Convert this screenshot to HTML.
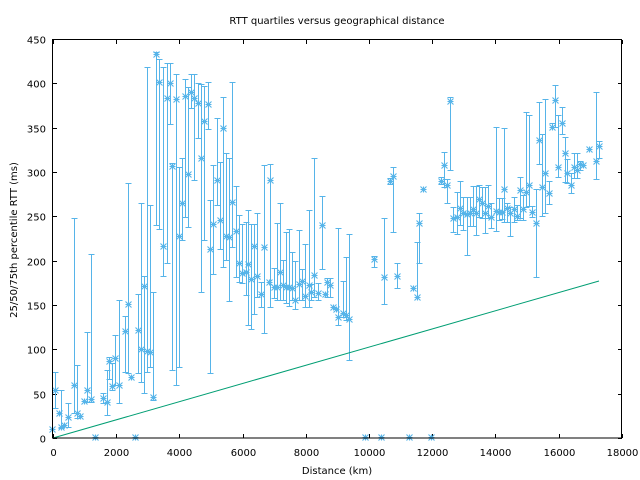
<!DOCTYPE html>
<html><head><meta charset="utf-8"><style>
html,body{margin:0;padding:0;background:#fff;}
svg{display:block;}
text{font-family:"DejaVu Sans","Liberation Sans",sans-serif;font-size:10px;fill:#000;}
</style></head><body>
<svg id="s" width="640" height="480" xmlns="http://www.w3.org/2000/svg">
<rect width="640" height="480" fill="#fff"/>
<text x="337" y="24" text-anchor="middle">RTT quartiles versus geographical distance</text>
<text x="337" y="474" text-anchor="middle">Distance (km)</text>
<text transform="translate(17,240) rotate(-90)" text-anchor="middle">25/50/75th percentile RTT (ms)</text>
<g id="ax" shape-rendering="crispEdges"></g>
<g id="d" stroke="#56b4e9" stroke-width="1" fill="none"></g>
<line x1="53" y1="438" x2="599" y2="281" stroke="#009e73" stroke-width="1"/>
<rect x="52.5" y="39.5" width="569" height="398.5" fill="none" stroke="#000" stroke-width="1" shape-rendering="crispEdges"/>
</svg>
<script>
var NS="http://www.w3.org/2000/svg";
function el(p,t,a,txt){var e=document.createElementNS(NS,t);for(var k in a)e.setAttribute(k,a[k]);if(txt!=null)e.textContent=txt;p.appendChild(e);return e;}
var ax=document.getElementById('ax');
for(var v=0;v<=450;v+=50){var y=438-v*0.8867;y=Math.round(y)+0.5;
el(ax,'line',{x1:53,y1:y,x2:57,y2:y,stroke:'#000'});
el(ax,'line',{x1:618,y1:y,x2:622,y2:y,stroke:'#000'});
el(ax,'text',{x:46,y:y+4,'text-anchor':'end'},String(v));}
for(var v=0;v<=18000;v+=2000){var x=53+v*0.0316;x=Math.round(x)+0.5;
el(ax,'line',{x1:x,y1:438,x2:x,y2:434,stroke:'#000'});
el(ax,'line',{x1:x,y1:40,x2:x,y2:44,stroke:'#000'});
el(ax,'text',{x:x,y:456,'text-anchor':'middle'},String(v));}
var P=[[52,429],[55,390,372,408],[59,413],[61,427,390,428],[64,425],[68,417,403,427],[74,385,218,413],[77,413,365,418],[80,416],[84,401],[87,390,332,402],[91,399,254,402],[95,437],[103,398,393,403],[107,402,370,415],[109,361,357,379],[112,386,363,390],[115,358,335,385],[119,385,300,403],[125,331,316,372],[128,304,183,373],[131,377],[135,437],[138,330,294,373],[141,349,203,382],[144,286,276,393],[147,351,67,372],[150,352,205,367],[153,397,292,400],[156,54,52,225],[159,82,59,229],[163,246,67,276],[167,98,63,263],[170,83,63,124],[172,166,163,370],[176,99,74,385],[179,236,167,367],[182,203,158,240],[185,96,79,217],[188,174,87,227],[191,92,74,108],[194,98,74,180],[198,103,83,138],[201,158,84,292],[204,121,86,240],[208,104,82,129],[210,249,200,373],[213,224,165,274],[217,180,118,205],[220,220,162,249],[223,128,97,267],[226,236,153,260],[229,237,158,301],[232,202,82,247],[236,231,186,277],[239,263,215,282],[242,273,224,283],[246,272,222,295],[248,264,210,325],[251,279,224,329],[254,246,224,314],[257,276,213,297],[261,294,282,307],[264,247,165,333],[269,282],[270,180,164,307],[274,287,268,298],[277,287,223,300],[280,272,203,300],[283,285,260,300],[286,287,232,303],[289,287,229,306],[292,288,252,300],[295,300,261,309],[299,284,230,300],[302,281,269,300],[305,296,244,307],[309,285,210,307],[311,292,284,300],[314,275,158,297],[318,293,283,300],[322,225,196,269],[325,294],[327,282,278,297],[330,285,278,297],[333,307],[336,309],[338,317,228,325],[343,313,281,317],[346,315,257,320],[349,319,234,360],
[365,437],[374,259,256,267],[381,437],[384,277,218,304],[390,181,178,184],[393,176,167,232],[397,276,263,288],[409,437],[413,288],[417,297,242,297],[419,223,213,263],[423,189],[431,437],[441,181,177,184],[444,165,152,187],[447,185,179,203],[450,101,97,170],[453,218,207,232],[457,217,192,234],[460,208,181,225],[463,213,197,230],[467,214,197,255],[470,213,197,226],[473,209,186,226],[476,213,186,235],[479,199,185,217],[482,203,187,218],[485,213,187,233],[488,206,185,218],[491,217,203,228],[496,211,127,231],[499,212,198,220],[502,212,198,219],[504,189,128,222],[507,208,203,222],[510,213,207,236],[514,209,197,222],[517,216,205,220],[520,190,177,218],[523,209,195,220],[526,192,112,207],[529,185,115,206],[532,212,206,217],[536,223,189,277],[539,140,102,164],[542,187,134,216],[545,173,99,213],[549,193,181,204],[552,127,123,127],[555,100,85,127],[558,167,115,177],[562,123,107,134],[565,153,137,182],[567,173,159,183],[571,185,173,193],[574,167,153,178],[577,170,153,178],[580,164,161,170],[583,165],[589,149],[596,161,92,179],[599,146,141,158]];
var g=document.getElementById('d');
P.forEach(function(p){var x=p[0]+0.5,y=p[1]+0.5;
if(p.length>2){var t=p[2]+0.5,b=p[3]+0.5;
el(g,'line',{x1:x,y1:t,x2:x,y2:b,'shape-rendering':'crispEdges'});
el(g,'line',{x1:x-3,y1:t,x2:x+3,y2:t,'shape-rendering':'crispEdges'});
el(g,'line',{x1:x-3,y1:b,x2:x+3,y2:b,'shape-rendering':'crispEdges'});}
var r=3;
el(g,'path',{'stroke-width':1.1,d:'M'+(x-r)+' '+y+'h'+(2*r)+'M'+x+' '+(y-r)+'v'+(2*r)+'M'+(x-r)+' '+(y-r)+'l'+(2*r)+' '+(2*r)+'M'+(x-r)+' '+(y+r)+'l'+(2*r)+' '+(-2*r)});
});
</script>
</body></html>
